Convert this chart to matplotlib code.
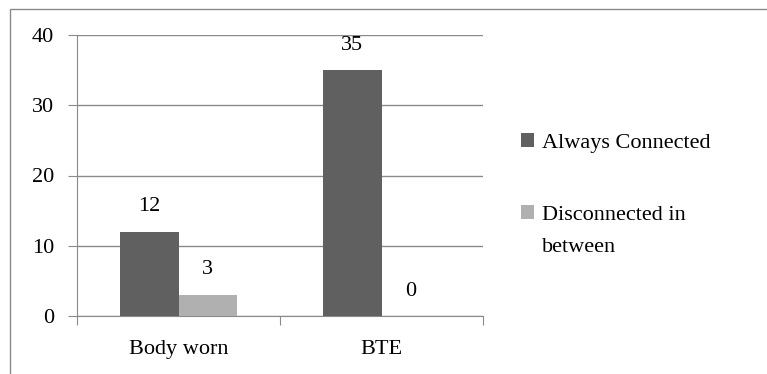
import matplotlib.pyplot as plt
from matplotlib.patches import Rectangle
import numpy as np

categories = ['Body worn', 'BTE']
always_connected = [12, 35]
disconnected = [3, 0]
series_names = ['Always Connected', 'Disconnected in']
name_wrap = 'between'  # second line of the second series name

plt.rcParams['font.family'] = ['Liberation Serif', 'DejaVu Serif']
fs = 16

fig = plt.figure(figsize=(7.67, 3.74), dpi=100)
ax = fig.add_axes([77/767, 1 - 316/374, (483 - 77)/767, (316 - 35)/374])

# outer chart border
fig.patches.append(Rectangle((10/767, -0.1), 1.2, 1 - 9/374 + 0.1, transform=fig.transFigure,
                             fill=False, edgecolor='#8a8a8a', linewidth=1))

x = np.arange(len(categories))
w = 0.29
b1 = ax.bar(x - w/2, always_connected, w, color='#606060', label=series_names[0], zorder=3)
b2 = ax.bar(x + w/2, disconnected, w, color='#b0b0b0', label=series_names[1], zorder=3)

for bars, vals in [(b1, always_connected), (b2, disconnected)]:
    for rect, v in zip(bars, vals):
        ax.annotate(str(v), (rect.get_x() + rect.get_width()/2, v), xytext=(0, 18),
                    textcoords='offset points', ha='center', va='center', fontsize=fs)

ax.set_xlim(-0.5, 1.5)
ax.set_ylim(0, 40)
ax.set_yticks([0, 10, 20, 30, 40])
ax.set_xticks([-0.5, 0.5, 1.5], minor=False)
ax.set_xticklabels([])
ax.set_xticks(x, minor=True)
ax.set_xticklabels(categories, minor=True)
ax.tick_params(axis='x', which='minor', length=0, labelsize=fs, pad=17)
ax.tick_params(axis='x', which='major', length=6.5, color='#8a8a8a', direction='out')
ax.tick_params(axis='y', length=6.5, color='#8a8a8a', labelsize=fs, pad=10)
ax.yaxis.grid(True, color='#8a8a8a', linewidth=1, zorder=0)
ax.set_axisbelow(True)
for s in ['top', 'right']:
    ax.spines[s].set_visible(False)
for s in ['left', 'bottom']:
    ax.spines[s].set_color('#8a8a8a')

leg = ax.legend(loc='upper left', bbox_to_anchor=(501/767, 1 - 113/374), bbox_transform=fig.transFigure,
                frameon=False, fontsize=fs, handlelength=0.6, handleheight=0.6, handletextpad=0.35,
                labelspacing=2.36)

# wrapped second line placed under the legend label
fig.canvas.draw()
bb = leg.get_texts()[1].get_window_extent()
fig.text(bb.x0 / fig.bbox.width, (bb.y0 + bb.height / 2 - 32) / fig.bbox.height, name_wrap,
         fontsize=fs, ha='left', va='center')

fig.savefig('out.png', dpi=100)
